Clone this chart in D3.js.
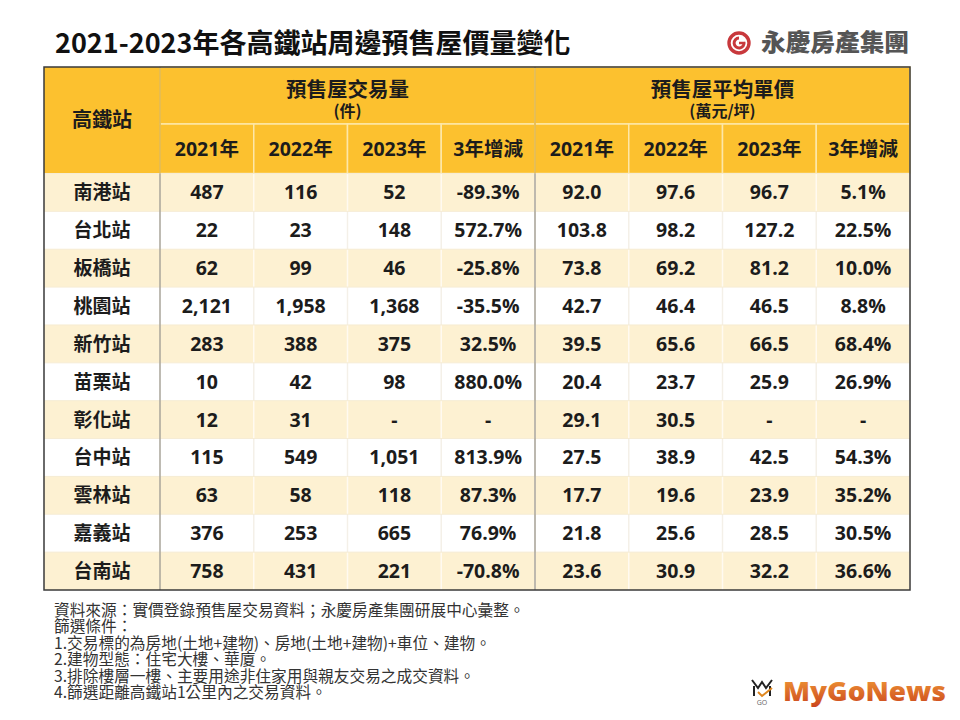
<!DOCTYPE html>
<html><head><meta charset="utf-8">
<script src="https://cdn.jsdelivr.net/npm/d3@7"></script>
<style>body{margin:0;background:#fff}svg{display:block}</style>
</head><body>
<svg id="chart" width="960" height="720"></svg>
<script>
const stations = ["南港站","台北站","板橋站","桃園站","新竹站","苗栗站","彰化站","台中站","雲林站","嘉義站","台南站"];
const vol2021 = [487,22,62,2121,283,10,12,115,63,376,758];
const vol2022 = [116,23,99,1958,388,42,31,549,58,253,431];
const vol2023 = [52,148,46,1368,375,98,null,1051,118,665,221];
const volChange = [-89.3,572.7,-25.8,-35.5,32.5,880.0,null,813.9,87.3,76.9,-70.8];
const price2021 = [92.0,103.8,73.8,42.7,39.5,20.4,29.1,27.5,17.7,21.8,23.6];
const price2022 = [97.6,98.2,69.2,46.4,65.6,23.7,30.5,38.9,19.6,25.6,30.9];
const price2023 = [96.7,127.2,81.2,46.5,66.5,25.9,null,42.5,23.9,28.5,32.2];
const priceChange = [5.1,22.5,10.0,8.8,68.4,26.9,null,54.3,35.2,30.5,36.6];
const yearLabels = ["2021年","2022年","2023年","3年增減"];
const groupTitles = ["預售屋交易量","預售屋平均單價"];
const groupUnits = ["(件)","(萬元/坪)"];
const stationHeader = "高鐵站";
const title = "2021-2023年各高鐵站周邊預售屋價量變化";
const notes = [
  "資料來源：實價登錄預售屋交易資料；永慶房產集團研展中心彙整。",
  "篩選條件：",
  "1.交易標的為房地(土地+建物)、房地(土地+建物)+車位、建物。",
  "2.建物型態：住宅大樓、華廈。",
  "3.排除樓層一樓、主要用途非住家用與親友交易之成交資料。",
  "4.篩選距離高鐵站1公里內之交易資料。"
];

(function(){
const svg = d3.select("#chart");
const FONT = "'Open Sans','Noto Sans CJK TC',sans-serif";
const CJK = "'Noto Sans CJK TC','Open Sans',sans-serif";
const HEAD = "#FCC12F", CREAM = "#FDF1D2", TXT = "#1c1c1c";

const L = 44, R = 910, T = 67, H1 = 124, H2 = 173.5, B = 590, SW = 160;
const colKeys = d3.range(8);
const x = d3.scaleBand().domain(colKeys).range([SW, R]);
const y = d3.scaleBand().domain(d3.range(stations.length)).range([H2, B]);

const loc = d3.formatLocale({decimal: ".", thousands: ",", grouping: [3], currency: ["", ""], minus: "-"});
const fmtInt = loc.format(",");
const fmt1 = loc.format(".1f");
const pct = v => v == null ? "-" : fmt1(v) + "%";
const cols = [
  vol2021.map(fmtInt), vol2022.map(fmtInt), vol2023.map(v => v == null ? "-" : fmtInt(v)), volChange.map(pct),
  price2021.map(fmt1), price2022.map(fmt1), price2023.map(v => v == null ? "-" : fmt1(v)), priceChange.map(pct)
];

// title
svg.append("text").attr("x", 55).attr("y", 53).text(title)
  .attr("font-family", CJK).attr("font-weight", 700).attr("font-size", 27).attr("fill", "#111");

// logo
const lg = svg.append("g").attr("transform", "translate(739,43)");
lg.append("circle").attr("r", 10).attr("fill", "none").attr("stroke", "#c8383c").attr("stroke-width", 3.4);
lg.append("path").attr("d", "M5,-1 A5,5 0 1 1 0,-5").attr("fill", "none").attr("stroke", "#c8383c").attr("stroke-width", 3);
lg.append("path").attr("d", "M0,0 L6,0").attr("stroke", "#c8383c").attr("stroke-width", 2.5);
svg.append("text").attr("x", 761).attr("y", 51).text("永慶房產集團")
  .attr("font-family", CJK).attr("font-weight", 900).attr("font-size", 23.5).attr("fill", "#555")
  .attr("textLength", 148).attr("lengthAdjust", "spacingAndGlyphs");

// header backgrounds
svg.append("rect").attr("x", L).attr("y", T).attr("width", R - L).attr("height", H2 - T).attr("fill", HEAD);
const hdr = svg.append("g");
[0, 4].forEach((g, gi) => {
  hdr.append("rect").attr("x", x(g)).attr("y", T).attr("width", x.bandwidth() * 4).attr("height", H1 - T)
    .attr("fill", HEAD).attr("stroke", "#fde7a8").attr("stroke-width", 1.5);
  hdr.append("text").attr("x", x(g) + x.bandwidth() * 2).attr("y", 97).attr("text-anchor", "middle")
    .text(groupTitles[gi]).attr("font-family", CJK).attr("font-weight", 700).attr("font-size", 20.5).attr("fill", TXT);
  hdr.append("text").attr("x", x(g) + x.bandwidth() * 2).attr("y", 116.5).attr("text-anchor", "middle")
    .text(groupUnits[gi]).attr("font-family", CJK).attr("font-weight", 700).attr("font-size", 16).attr("fill", TXT);
});
colKeys.forEach(c => {
  hdr.append("rect").attr("x", x(c)).attr("y", H1).attr("width", x.bandwidth()).attr("height", H2 - H1)
    .attr("fill", HEAD).attr("stroke", "#fde7a8").attr("stroke-width", 1.5);
  hdr.append("text").attr("x", x(c) + x.bandwidth() / 2).attr("y", H1 + (H2 - H1) / 2 + 7).attr("text-anchor", "middle")
    .text(yearLabels[c % 4]).attr("font-family", FONT).attr("font-weight", 700).attr("font-size", 19.5).attr("fill", TXT);
});
hdr.append("text").attr("x", (L + SW) / 2).attr("y", (T + H2) / 2 + 7).attr("text-anchor", "middle")
  .text(stationHeader).attr("font-family", CJK).attr("font-weight", 700).attr("font-size", 20).attr("fill", TXT);

// body rows
const rows = svg.append("g").selectAll("g").data(stations).join("g")
  .attr("transform", (d, i) => `translate(0,${y(i)})`);
rows.append("rect").attr("x", L).attr("width", R - L).attr("height", y.bandwidth())
  .attr("fill", (d, i) => i % 2 === 0 ? CREAM : "#fff");
rows.each(function(d, i) {
  const g = d3.select(this);
  colKeys.forEach(c => {
    g.append("line").attr("x1", x(c) + x.bandwidth()).attr("x2", x(c) + x.bandwidth()).attr("y1", 0).attr("y2", y.bandwidth())
      .attr("stroke", i % 2 === 0 ? "#fffaf0" : "#f4f0e8").attr("stroke-width", 1.5);
  });
});
rows.append("line").attr("x1", L).attr("x2", R).attr("y1", 0).attr("y2", 0).attr("stroke", "#f6ecd4").attr("stroke-width", 1);
rows.append("text").attr("x", (L + SW) / 2).attr("y", y.bandwidth() / 2 + 7).attr("text-anchor", "middle")
  .text(d => d).attr("font-family", CJK).attr("font-weight", 700).attr("font-size", 19).attr("fill", TXT);
rows.each(function(d, i) {
  const g = d3.select(this);
  colKeys.forEach(c => {
    g.append("text").attr("x", x(c) + x.bandwidth() / 2).attr("y", y.bandwidth() / 2 + 7).attr("text-anchor", "middle")
      .text(cols[c][i]).attr("font-family", FONT).attr("font-weight", 700).attr("font-size", 19.5).attr("fill", TXT);
  });
});

// section dividers
[SW, x(4)].forEach(xx => {
  svg.append("line").attr("x1", xx).attr("x2", xx).attr("y1", T).attr("y2", H2).attr("stroke", "#d9a62a").attr("stroke-width", 1.2);
  svg.append("line").attr("x1", xx).attr("x2", xx).attr("y1", H2).attr("y2", B).attr("stroke", "#a9a49a").attr("stroke-width", 1.5);
});
// outer border
svg.append("rect").attr("x", L).attr("y", T).attr("width", R - L).attr("height", B - T)
  .attr("fill", "none").attr("stroke", "#3a3a3a").attr("stroke-width", 1.5);

// notes
svg.append("g").selectAll("text").data(notes).join("text")
  .attr("x", 54).attr("y", (d, i) => 616 + i * 16.4).text(d => d)
  .attr("font-family", CJK).attr("font-size", 15.7).attr("fill", "#333");

// MyGoNews logo
const defs = svg.append("defs");
const grad = defs.append("linearGradient").attr("id", "mg").attr("x1", 0).attr("x2", 0).attr("y1", 0).attr("y2", 1);
grad.append("stop").attr("offset", "0%").attr("stop-color", "#f6a53a");
grad.append("stop").attr("offset", "100%").attr("stop-color", "#c8401c");
const ic = svg.append("g").attr("transform", "translate(750,678)");
ic.append("path").attr("d", "M2,2 L8,10 L12,4 L16,10 L22,2 M4,8 L4,18 M20,8 L20,18").attr("fill", "none").attr("stroke", "#222").attr("stroke-width", 2);
ic.append("path").attr("d", "M8,14 L12,18 L22,10").attr("fill", "none").attr("stroke", "#e0871f").attr("stroke-width", 2);
ic.append("text").attr("x", 12).attr("y", 27).attr("text-anchor", "middle").text("GO")
  .attr("font-family", FONT).attr("font-size", 7).attr("fill", "#666");
svg.append("text").attr("x", 783).attr("y", 701).text("MyGoNews")
  .attr("font-family", "'Open Sans',sans-serif").attr("font-weight", 800).attr("font-size", 27).attr("fill", "url(#mg)")
  .attr("textLength", 163).attr("lengthAdjust", "spacingAndGlyphs");
})();
</script>
</body></html>
